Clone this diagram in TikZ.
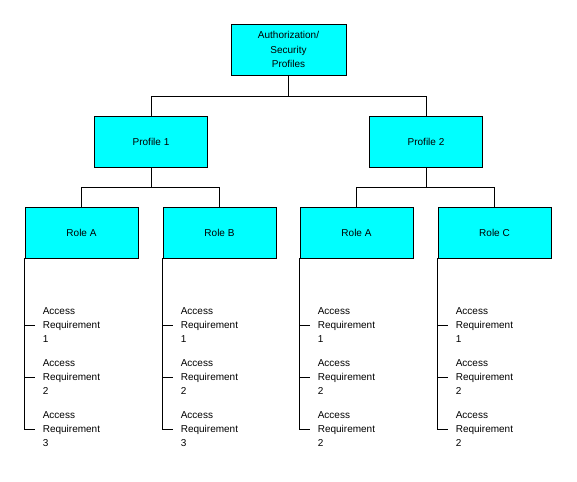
\documentclass[tikz,border=0pt]{standalone}
\usepackage{fontspec}
\setmainfont{Liberation Sans}
\definecolor{boxcyan}{RGB}{0,255,255}
\begin{document}
\begin{tikzpicture}[x=1pt,y=-1pt,
	square/.style={rectangle, minimum width=113pt, minimum height=51pt, draw=black, fill=boxcyan, line width=0.8pt, align=center, font=\fontsize{10}{14.5}\selectfont},
	label/.style={anchor=west, inner sep=0pt, align=left, font=\fontsize{10}{14}\selectfont},
	line/.style={black, line width=0.8pt}]
	
	\useasboundingbox (0,0) rectangle (577,481);
	
	%Nodes
	\node[square, minimum width=115pt]	(auth)	at (288.5,49.5)	{Authorization/\\Security\\Profiles};
	\node[square]	(prof1)	at	(151,141.5)	{Profile 1};
	\node[square]	(prof2)	at	(426,141.5)	{Profile 2};
	\node[square]	(roleA)	at	(81.5,232.5)	{Role A};
	\node[square]	(roleB)	at	(219.5,232.5)	{Role B};
	\node[square]	(roleA2)	at	(356.5,232.5)	{Role A};
	\node[square]	(roleC)	at	(494.5,232.5)	{Role C};
	
	%Labels
	\foreach \r/\a/\b/\c in {roleA/1/2/3, roleB/1/2/3, roleA2/1/2/2, roleC/1/2/2}{
		\node[label]	(\r-1)	at	([xshift=18pt]\r.south west |- 0,325)	{Access\\Requirement\\\a};
		\node[label]	(\r-2)	at	([xshift=18pt]\r.south west |- 0,377)	{Access\\Requirement\\\b};
		\node[label]	(\r-3)	at	([xshift=18pt]\r.south west |- 0,429)	{Access\\Requirement\\\c};
		\draw[line, shorten >=8pt] (\r.south west) |- (\r-1.west);
		\draw[line, shorten >=8pt] (\r.south west) |- (\r-2.west);
		\draw[line, shorten >=8pt] (\r.south west) |- (\r-3.west);
	}
	
	%Lines
	\draw[line] (auth.south) -- ++(0,21) -| (prof1.north);
	\draw[line] (auth.south) -- ++(0,21) -| (prof2.north);
	\draw[line] (prof1.south) -- ++(0,20) -| (roleA.north);
	\draw[line] (prof1.south) -- ++(0,20) -| (roleB.north);
	\draw[line] (prof2.south) -- ++(0,20) -| (roleA2.north);
	\draw[line] (prof2.south) -- ++(0,20) -| (roleC.north);
\end{tikzpicture}
\end{document}
